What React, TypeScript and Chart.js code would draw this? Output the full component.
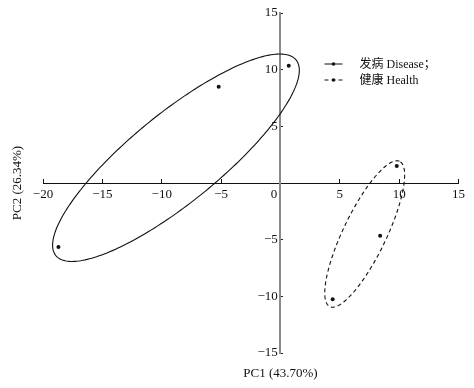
import React, { useEffect, useRef } from 'react';
import { Chart, registerables } from 'chart.js';

Chart.register(...registerables);

// ---- data ----
const seriesNames = ['发病 Disease；', '健康 Health'];
const diseaseX = [-5.2, 0.7, -18.7];
const diseaseY = [8.5, 10.35, -5.65];
const healthX = [9.8, 8.4, 4.4];
const healthY = [1.5, -4.65, -10.25];
const xTicks = [-20, -15, -10, -5, 0, 5, 10, 15];
const yTicks = [-15, -10, -5, 0, 5, 10, 15];
const xTitle = 'PC1 (43.70%)';
const yTitle = 'PC2 (26.34%)';
// ellipse: [centerX, centerY, semiMajor, semiMinor, angleDeg] in data units
const diseaseEllipse = [-8.8, 2.23, 13.3, 3.85, 40.7];
const healthEllipse = [7.1, -4.5, 7.05, 1.83, 65.5];

const FONT = "'Liberation Serif', 'Times New Roman', 'Noto Sans CJK SC', serif";
const ellipses = [diseaseEllipse, healthEllipse];
const dashes: number[][] = [[], [4, 3]];

const fmt = (v: number) => String(v).replace('-', '\u2212');

const overlayPlugin = {
  id: 'overlay',
  afterDatasetsDraw(chart: any) {
    const { ctx, scales } = chart;
    const xs = scales.x;
    const ys = scales.y;
    ellipses.forEach((e, idx) => {
      const [cx, cy, A, B, deg] = e;
      const th = (deg * Math.PI) / 180;
      ctx.save();
      ctx.strokeStyle = '#111';
      ctx.lineWidth = 1.1;
      ctx.setLineDash(dashes[idx]);
      ctx.beginPath();
      const N = 240;
      for (let i = 0; i <= N; i++) {
        const t = (i / N) * Math.PI * 2;
        const dx = A * Math.cos(th) * Math.cos(t) - B * Math.sin(th) * Math.sin(t);
        const dy = A * Math.sin(th) * Math.cos(t) + B * Math.cos(th) * Math.sin(t);
        const px = xs.getPixelForValue(cx + dx);
        const py = ys.getPixelForValue(cy + dy);
        if (i === 0) ctx.moveTo(px, py);
        else ctx.lineTo(px, py);
      }
      ctx.stroke();
      ctx.restore();
    });
  },
  afterDraw(chart: any) {
    const { ctx, scales, chartArea } = chart;
    const xs = scales.x;
    const ys = scales.y;
    ctx.save();
    ctx.fillStyle = '#111';
    ctx.font = `13px ${FONT}`;
    // x title
    ctx.textAlign = 'center';
    ctx.textBaseline = 'middle';
    ctx.fillText(xTitle, xs.getPixelForValue(0), chartArea.bottom + 21);
    // y title
    ctx.save();
    ctx.translate(18, ys.getPixelForValue(0));
    ctx.rotate(-Math.PI / 2);
    ctx.fillText(yTitle, 0, 0);
    ctx.restore();
    // legend
    const lx = chartArea.right - 134;
    chart.data.datasets.forEach((ds: any, i: number) => {
      const ly = chartArea.top + 51 + i * 16;
      ctx.save();
      ctx.strokeStyle = '#111';
      ctx.lineWidth = 1;
      ctx.setLineDash(dashes[i]);
      ctx.beginPath();
      ctx.moveTo(lx, ly);
      ctx.lineTo(lx + 18, ly);
      ctx.stroke();
      ctx.setLineDash([]);
      ctx.beginPath();
      ctx.arc(lx + 9, ly, 1.8, 0, Math.PI * 2);
      ctx.fill();
      ctx.font = `12px ${FONT}`;
      ctx.textAlign = 'left';
      ctx.textBaseline = 'middle';
      ctx.fillText(ds.label, lx + 35, ly + 0.5);
      ctx.restore();
    });
    ctx.restore();
  },
};

export default function App() {
  const ref = useRef<HTMLCanvasElement>(null);
  useEffect(() => {
    const chart = new Chart(ref.current as HTMLCanvasElement, {
      type: 'scatter',
      data: {
        datasets: [
          {
            label: seriesNames[0],
            data: diseaseX.map((x, i) => ({ x, y: diseaseY[i] })),
            pointRadius: 2,
            pointBorderWidth: 0,
            backgroundColor: '#111',
            borderColor: '#111',
          },
          {
            label: seriesNames[1],
            data: healthX.map((x, i) => ({ x, y: healthY[i] })),
            pointRadius: 2,
            pointBorderWidth: 0,
            backgroundColor: '#111',
            borderColor: '#111',
          },
        ],
      },
      options: {
        animation: false,
        responsive: false,
        devicePixelRatio: 1,
        layout: { padding: { left: 43, right: 13, top: 13, bottom: 35 } },
        plugins: { legend: { display: false }, tooltip: { enabled: false } },
        scales: {
          x: {
            type: 'linear',
            min: -20,
            max: 15,
            position: { y: 0 } as any,
            afterFit: (s: any) => { s.height = 0; },
            afterBuildTicks: (s: any) => { s.ticks = xTicks.map((v) => ({ value: v })); },
            grid: { drawOnChartArea: false, drawTicks: true, tickLength: -5, tickColor: '#111', tickWidth: 1 },
            border: { display: true, color: '#111', width: 1 },
            ticks: {
              color: '#111',
              padding: 9,
              maxRotation: 0,
              autoSkip: false,
              font: { family: FONT, size: 13 },
              callback: (v: any) => (Number(v) === 0 ? '0\u2003' : fmt(Number(v))),
            },
          },
          y: {
            type: 'linear',
            min: -15,
            max: 15,
            position: { x: 0 } as any,
            afterFit: (s: any) => { s.width = 0; },
            afterBuildTicks: (s: any) => { s.ticks = yTicks.map((v) => ({ value: v })); },
            grid: { drawOnChartArea: false, drawTicks: true, tickLength: -4, tickColor: '#222', tickWidth: 1 },
            border: { display: true, color: '#8a8a8a', width: 2 },
            ticks: {
              color: '#111',
              autoSkip: false,
              font: { family: FONT, size: 13 },
              callback: (v: any) => (Number(v) === 0 ? '' : fmt(Number(v)) + '\u2009'),
            },
          },
        },
      },
      plugins: [overlayPlugin],
    });
    return () => chart.destroy();
  }, []);
  return (
    <div style={{ position: 'absolute', left: 0, top: 0, width: 474, height: 388, background: '#fff' }}>
      <canvas ref={ref} width={474} height={388} style={{ display: 'block' }} />
    </div>
  );
}
